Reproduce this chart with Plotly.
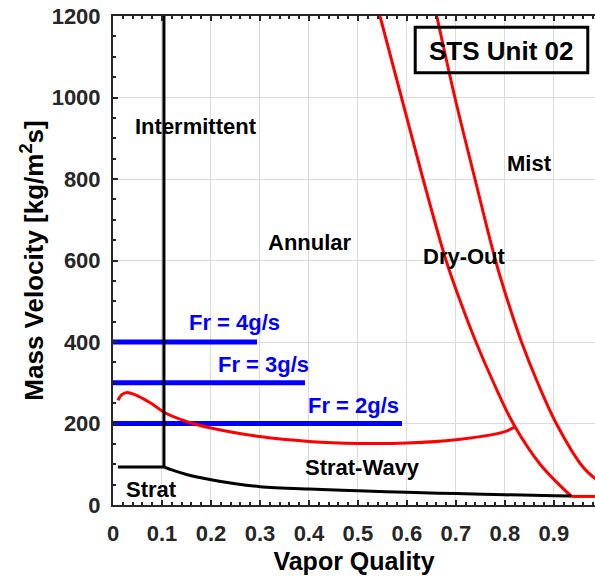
import plotly.graph_objects as go

# Flow pattern map boundaries (vapor quality vs mass velocity)
strat_x = [0.01, 0.105]
strat_g = [93, 93]

strat_wavy_x = [0.105, 0.12, 0.15, 0.2, 0.25, 0.3, 0.4, 0.5, 0.6, 0.7, 0.8, 0.9, 0.936]
strat_wavy_g = [93, 86, 75, 62, 52, 45, 39, 35, 31, 28, 25, 23, 22]

intermittent_x = [0.104, 0.104]
intermittent_g = [93, 1200]

annular_x = [0.01, 0.018, 0.029, 0.05, 0.08, 0.105, 0.15, 0.2, 0.3, 0.4, 0.5, 0.6, 0.7, 0.8, 0.822]
annular_g = [257, 271, 276, 268, 248, 227, 205, 189, 168, 156, 151, 152, 160, 180, 193]

dryout_x = [0.545, 0.589, 0.633, 0.680, 0.709, 0.741, 0.777, 0.817, 0.872, 0.936]
dryout_g = [1200, 1000, 800, 600, 500, 400, 300, 200, 100, 21]

mist_floor_x = [0.936, 0.99]
mist_floor_g = [21, 21]

mist_x = [0.661, 0.698, 0.739, 0.781, 0.806, 0.834, 0.867, 0.905, 0.959, 0.995]
mist_g = [1200, 1000, 800, 600, 500, 400, 300, 200, 94, 55]

# Mass flow rate lines
fr_labels = ["Fr = 4g/s", "Fr = 3g/s", "Fr = 2g/s"]
fr_g = [400, 300, 200]
fr_xend = [0.294, 0.392, 0.59]
fr_label_x = [0.249, 0.307, 0.491]
fr_label_g = [447, 346, 243]

# Region labels
region_names = ["Intermittent", "Annular", "Dry-Out", "Mist", "Strat", "Strat-Wavy"]
region_x = [0.169, 0.402, 0.718, 0.851, 0.078, 0.51]
region_g = [930, 643, 611, 839, 39, 93]

x_ticks = [0, 0.1, 0.2, 0.3, 0.4, 0.5, 0.6, 0.7, 0.8, 0.9]
x_ticktext = ["0", "0.1", "0.2", "0.3", "0.4", "0.5", "0.6", "0.7", "0.8", "0.9"]
y_ticks = [0, 200, 400, 600, 800, 1000, 1200]

FONT = "Liberation Sans, Arial, sans-serif"
RED = "#ff0000"
BLUE = "#0000ff"
AXC = "#262626"

fig = go.Figure()

for gv, xe in zip(fr_g, fr_xend):
    fig.add_trace(go.Scatter(x=[0, xe], y=[gv, gv], mode="lines",
                             line=dict(color=BLUE, width=5)))

fig.add_trace(go.Scatter(x=annular_x, y=annular_g, mode="lines",
                         line=dict(color=RED, width=3, shape="spline")))
fig.add_trace(go.Scatter(x=dryout_x, y=dryout_g, mode="lines",
                         line=dict(color=RED, width=3, shape="spline")))
fig.add_trace(go.Scatter(x=mist_floor_x, y=mist_floor_g, mode="lines",
                         line=dict(color=RED, width=3)))
fig.add_trace(go.Scatter(x=mist_x, y=mist_g, mode="lines",
                         line=dict(color=RED, width=3, shape="spline")))

fig.add_trace(go.Scatter(x=strat_x, y=strat_g, mode="lines",
                         line=dict(color="black", width=3)))
fig.add_trace(go.Scatter(x=strat_wavy_x, y=strat_wavy_g, mode="lines",
                         line=dict(color="black", width=3, shape="spline")))
fig.add_trace(go.Scatter(x=intermittent_x, y=intermittent_g, mode="lines",
                         line=dict(color="black", width=3)))

for name, xv, gv in zip(region_names, region_x, region_g):
    fig.add_annotation(x=xv, y=gv, text=name, showarrow=False,
                       font=dict(family=FONT, size=22, color="black", weight="bold"))

for name, xv, gv in zip(fr_labels, fr_label_x, fr_label_g):
    fig.add_annotation(x=xv, y=gv, text=name, showarrow=False,
                       font=dict(family=FONT, size=22, color=BLUE, weight="bold"))

# Unit label in a framed box (top right)
fig.add_shape(type="rect", xref="paper", yref="paper",
              x0=0.627, x1=0.985, y0=0.884, y1=0.977,
              line=dict(color="black", width=3), fillcolor="rgba(0,0,0,0)")
fig.add_annotation(xref="paper", yref="paper", x=0.806, y=0.928,
                   xanchor="center", yanchor="middle",
                   text="STS Unit 02", showarrow=False,
                   font=dict(family=FONT, size=26, color="black", weight="bold"))

fig.update_layout(
    width=595, height=578,
    margin=dict(l=113, r=0, t=16, b=73),
    plot_bgcolor="white", paper_bgcolor="white",
    showlegend=False,
    font=dict(family=FONT, color=AXC),
)

fig.update_xaxes(
    range=[0, 0.984], tickvals=x_ticks, ticktext=x_ticktext,
    showgrid=True, gridcolor="#dcdcdc", gridwidth=1, zeroline=False,
    showline=True, linecolor=AXC, linewidth=2, mirror="ticks",
    ticks="inside", ticklen=5, tickwidth=1.5, tickcolor=AXC,
    minor=dict(dtick=0.02, ticks="inside", ticklen=3, tickcolor=AXC, showgrid=False),
    tickfont=dict(family=FONT, size=22, color=AXC, weight="bold"),
    ticklabelstandoff=8,
    title=dict(text="Vapor Quality", standoff=7,
               font=dict(family=FONT, size=25, color="black", weight="bold")),
)

fig.update_yaxes(
    range=[0, 1200], tickvals=y_ticks,
    showgrid=True, gridcolor="#dcdcdc", gridwidth=1, zeroline=False,
    showline=True, linecolor=AXC, linewidth=2, mirror=False,
    ticks="inside", ticklen=5, tickwidth=1.5, tickcolor=AXC,
    minor=dict(dtick=50, ticks="inside", ticklen=3, tickcolor=AXC, showgrid=False),
    tickfont=dict(family=FONT, size=22, color=AXC, weight="bold"),
    ticklabelstandoff=6,
    title=dict(text="Mass Velocity [kg/m<sup>2</sup>s]", standoff=1,
               font=dict(family=FONT, size=26, color="black", weight="bold")),
)

fig.write_html("out.html")
